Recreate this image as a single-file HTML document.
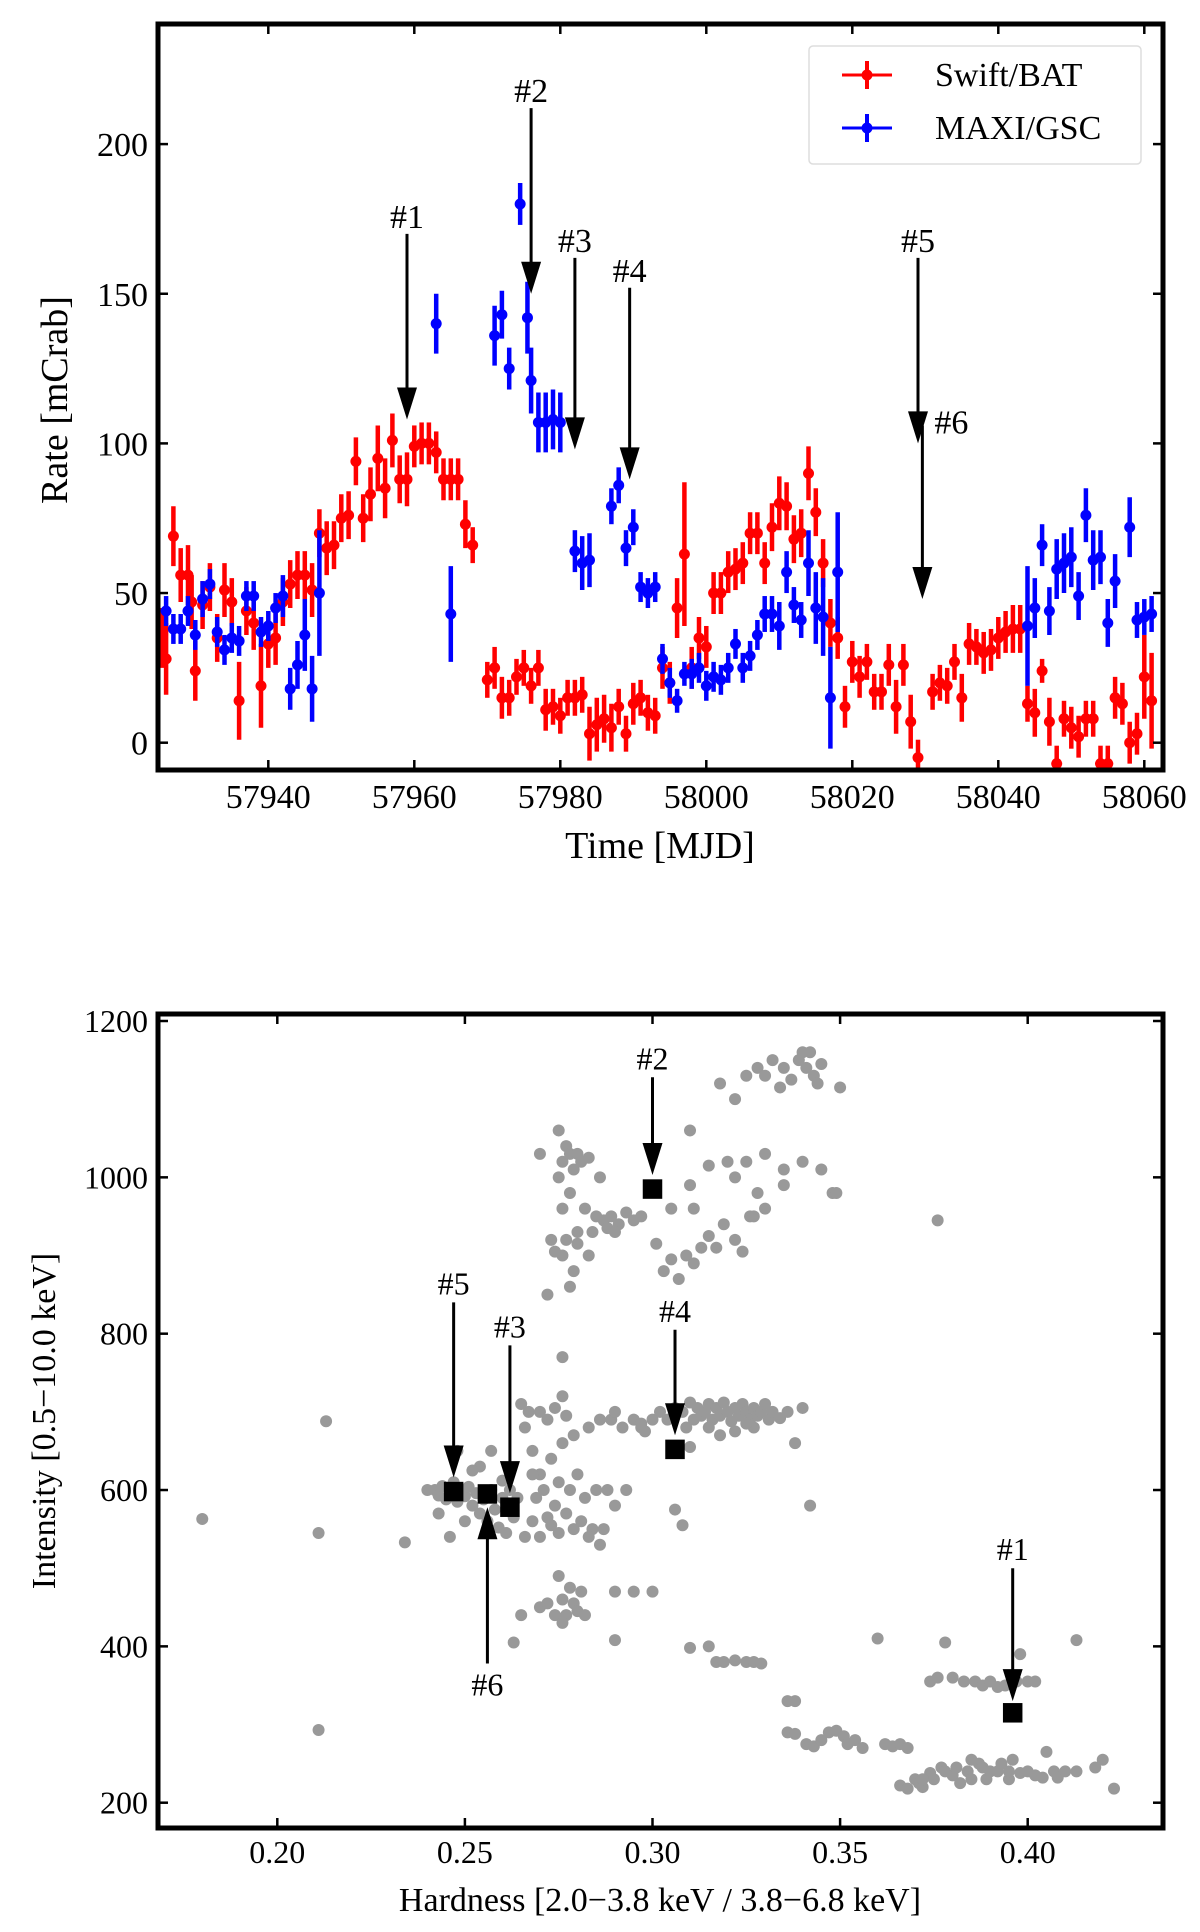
<!DOCTYPE html>
<html><head><meta charset="utf-8"><style>
html,body{margin:0;padding:0;background:#fff}
svg{display:block;font-family:"Liberation Serif",serif}
</style></head><body>
<svg id="fig" width="1200" height="1932" viewBox="0 0 1200 1932">
<g id="top"></g>
<g id="bot"></g>
</svg>
<script>
const batData=[[57925.5,35,10],[57926,28,12],[57927,69,10],[57928,56,9],[57929,56,10],[57929.5,47,9],[57930,24,10],[57931,46,8],[57932,52,8],[57933,35,8],[57934,51,9],[57935,47,8],[57936,14,13],[57937,44,8],[57938,40,9],[57939,19,14],[57940,33,8],[57941,35,9],[57942,47,8],[57943,53,8],[57944,56,8],[57945,56,8],[57946,51,9],[57947,70,8],[57948,65,9],[57949,66,8],[57950,75,8],[57951,76,8],[57952,94,8],[57953,75,8],[57954,83,9],[57955,95,11],[57956,85,10],[57957,101,9],[57958,88,8],[57959,88,9],[57960,99,7],[57961,100,7],[57962,100,7],[57963,97,7],[57964,88,7],[57965,88,7],[57966,88,7],[57967,73,8],[57968,66,6],[57970,21,6],[57971,25,7],[57972,15,7],[57973,15,6],[57974,22,6],[57975,25,6],[57976,19,6],[57977,25,6],[57978,11,7],[57979,12,6],[57980,9,6],[57981,15,6],[57982,15,6],[57983,16,6],[57984,3,9],[57985,6,9],[57986,8,8],[57987,5,8],[57988,12,6],[57989,3,6],[57990,13,7],[57991,15,6],[57992,10,6],[57993,9,6],[57994,25,7],[57995,20,7],[57996,45,10],[57997,63,24],[57998,25,7],[57999,35,7],[58000,32,7],[58001,50,7],[58002,50,7],[58003,57,7],[58004,58,7],[58005,60,7],[58006,70,7],[58007,70,7],[58008,60,7],[58009,72,8],[58010,80,9],[58011,79,8],[58012,68,8],[58013,70,8],[58014,90,9],[58015,77,8],[58016,60,8],[58017,40,8],[58018,35,7],[58019,12,7],[58020,27,7],[58021,22,7],[58022,27,6],[58023,17,6],[58024,17,6],[58025,26,7],[58026,12,9],[58027,26,7],[58028,7,9],[58029,-5,6],[58031,17,6],[58032,20,6],[58033,19,6],[58034,27,6],[58035,15,8],[58036,33,7],[58037,32,6],[58038,30,7],[58039,31,7],[58040,35,7],[58041,37,7],[58042,38,8],[58043,38,8],[58044,13,6],[58045,10,8],[58046,24,4],[58047,7,8],[58048,-7,6],[58049,8,6],[58050,5,7],[58051,2,7],[58052,8,6],[58053,8,6],[58054,-7,6],[58055,-7,6],[58056,15,7],[58057,13,7],[58058,0,7],[58059,3,7],[58060,22,14],[58061,14,16]];
const maxiData=[[57926,44,5],[57927,38,5],[57928,38,5],[57929,44,5],[57930,36,5],[57931,48,6],[57932,53,5],[57933,37,5],[57934,31,5],[57935,35,5],[57936,34,5],[57937,49,5],[57938,49,5],[57939,37,5],[57940,39,5],[57941,45,5],[57942,49,7],[57943,18,7],[57944,26,8],[57945,36,12],[57946,18,11],[57947,50,21],[57963,140,10],[57965,43,16],[57971,136,10],[57972,143,8],[57973,125,7],[57974.5,180,7],[57975.5,142,12],[57976,121,11],[57977,107,10],[57978,107,10],[57979,108,10],[57980,107,10],[57982,64,7],[57983,60,9],[57984,61,9],[57987,79,6],[57988,86,6],[57989,65,6],[57990,72,6],[57991,52,5],[57992,50,5],[57993,52,5],[57994,28,5],[57995,20,5],[57996,14,4],[57997,23,4],[57998,23,5],[57999,25,5],[58000,19,5],[58001,22,5],[58002,21,5],[58003,25,5],[58004,33,5],[58005,25,5],[58006,29,5],[58007,36,5],[58008,43,6],[58009,43,6],[58010,39,8],[58011,57,7],[58012,46,6],[58013,41,6],[58014,60,11],[58015,45,12],[58016,42,13],[58017,15,17],[58018,57,20],[58044,39,20],[58045,45,10],[58046,66,7],[58047,44,8],[58048,58,10],[58049,60,10],[58050,62,10],[58051,49,8],[58052,76,9],[58053,61,10],[58054,62,9],[58055,40,8],[58056,54,9],[58058,72,10],[58059,41,6],[58060,42,6],[58061,43,6]];
const topXTicks=[57940,57960,57980,58000,58020,58040,58060];
const topYTicks=[0,50,100,150,200];
const topArrows=[["#1",57959,170,108],["#2",57976,212,150],["#3",57982,162,98],["#4",57989.5,152,88],["#5",58029,162,100],["#6",58029.6,106,48]];
const hidPoints=[[0.242,600],[0.243,593],[0.244,605],[0.245,588],[0.246,598],[0.247,610],[0.248,585],[0.249,600],[0.250,592],[0.251,604],[0.252,580],[0.253,596],[0.254,570],[0.255,588],[0.256,560],[0.257,600],[0.258,575],[0.259,552],[0.260,590],[0.261,545],[0.262,600],[0.263,565],[0.264,590],[0.243,570],[0.246,540],[0.250,560],[0.254,630],[0.257,650],[0.260,612],[0.240,600],[0.248,650],[0.252,625],
[0.265,710],[0.266,680],[0.267,700],[0.268,650],[0.268,560],[0.269,590],[0.270,620],[0.270,540],[0.271,600],[0.272,690],[0.272,565],[0.273,640],[0.274,580],[0.275,545],[0.275,610],[0.276,660],[0.277,570],[0.277,695],[0.278,600],[0.279,550],[0.280,620],[0.281,560],[0.282,590],[0.283,680],[0.284,550],[0.285,600],[0.286,690],[0.287,550],[0.289,690],[0.290,580],[0.292,680],[0.266,540],[0.270,700],[0.274,705],[0.279,670],[0.283,540],[0.276,720],[0.268,620],[0.273,555],[0.286,530],[0.288,600],[0.290,700],[0.293,600],[0.295,690],[0.297,680],[0.298,675],[0.276,770],[0.265,440],[0.263,405],
[0.270,1030],[0.275,1060],[0.276,1020],[0.277,1040],[0.278,1030],[0.279,1010],[0.280,1030],[0.281,1020],[0.283,1025],[0.275,1000],[0.278,980],[0.282,960],[0.285,950],[0.287,945],[0.289,950],[0.291,940],[0.293,955],[0.295,945],[0.280,930],[0.284,930],[0.277,920],[0.273,920],[0.274,905],[0.276,900],[0.280,915],[0.283,900],[0.288,935],[0.290,930],[0.279,880],[0.272,850],[0.278,860],[0.286,1000],[0.276,960],[0.297,950],
[0.301,915],[0.303,880],[0.305,895],[0.307,870],[0.309,900],[0.311,890],[0.313,910],[0.315,925],[0.317,910],[0.319,940],[0.322,920],[0.324,905],[0.326,950],[0.328,980],[0.330,960],[0.310,990],[0.315,1015],[0.320,1020],[0.325,1020],[0.330,1030],[0.335,1010],[0.340,1020],[0.345,1010],[0.348,980],[0.305,960],[0.322,1000],[0.335,990],[0.318,1120],[0.322,1100],[0.325,1130],[0.328,1140],[0.330,1130],[0.332,1150],[0.335,1140],[0.337,1125],[0.339,1150],[0.340,1160],[0.341,1140],[0.342,1160],[0.343,1130],[0.344,1120],[0.345,1145],[0.350,1115],[0.334,1115],[0.310,1060],[0.327,950],[0.311,960],
[0.302,700],[0.304,690],[0.306,705],[0.308,700],[0.310,712],[0.311,690],[0.312,705],[0.313,695],[0.314,700],[0.315,710],[0.316,690],[0.317,705],[0.318,695],[0.319,712],[0.320,700],[0.321,688],[0.322,705],[0.323,695],[0.324,710],[0.325,700],[0.326,690],[0.327,705],[0.328,695],[0.329,700],[0.330,710],[0.331,690],[0.332,700],[0.334,692],[0.336,700],[0.340,705],[0.300,690],[0.297,685],[0.315,680],[0.322,675],[0.309,680],[0.318,670],[0.327,680],[0.310,655],[0.338,660],[0.306,575],[0.308,555],[0.342,580],[0.325,685],
[0.270,450],[0.272,455],[0.274,440],[0.275,490],[0.276,460],[0.277,440],[0.278,475],[0.279,455],[0.280,445],[0.281,470],[0.282,440],[0.276,430],[0.290,470],[0.295,470],[0.300,470],[0.290,408],[0.310,398],[0.315,400],[0.317,380],[0.319,380],[0.322,382],[0.325,380],[0.327,380],[0.329,378],[0.336,330],[0.338,330],
[0.336,290],[0.338,288],[0.341,275],[0.343,272],[0.345,280],[0.347,290],[0.349,292],[0.351,285],[0.352,275],[0.354,280],[0.356,270],[0.360,410],[0.362,275],[0.364,272],[0.366,222],[0.368,218],[0.370,230],[0.371,225],[0.372,220],[0.374,238],[0.375,230],[0.377,245],[0.378,240],[0.380,235],[0.381,245],[0.382,225],[0.384,240],[0.385,230],[0.387,250],[0.388,245],[0.389,230],[0.390,240],[0.392,240],[0.393,250],[0.395,230],[0.396,255],[0.398,238],[0.400,240],[0.402,235],[0.404,232],[0.405,265],[0.407,240],[0.408,232],[0.410,240],[0.413,240],[0.418,245],[0.420,255],[0.423,218],[0.372,230],[0.385,255],[0.395,240],[0.366,275],[0.368,270],[0.374,355],[0.376,360],[0.378,405],[0.380,360],[0.383,355],[0.386,355],[0.388,350],[0.390,355],[0.392,348],[0.394,350],[0.397,355],[0.400,355],[0.402,355],[0.398,390],[0.413,408],[0.376,945],[0.349,980],[0.234,533],[0.180,563],[0.211,545],[0.213,688],[0.211,293]];
const markLabels=["#1","#2","#3","#4","#5","#6"];
const markH=[0.396,0.300,0.262,0.306,0.247,0.256];
const markI=[315,985,578,652,598,595];
const botXTicks=[0.20,0.25,0.30,0.35,0.40];
const botYTicks=[200,400,600,800,1000,1200];
const botArrows=[["#1",0.396,500,330,0],["#2",0.300,1128,1003,0],["#3",0.262,785,596,0],["#4",0.306,805,670,0],["#5",0.247,840,616,0],["#6",0.256,378,578,1]];

const NS="http://www.w3.org/2000/svg";
function mk(parent,tag,attrs,text){const e=document.createElementNS(NS,tag);for(const k in attrs)e.setAttribute(k,attrs[k]);if(text!==undefined)e.textContent=text;parent.appendChild(e);return e;}
const tx=m=>268.3+(m-57940)*7.3, ty=v=>742.7-v*2.993;
const bx=h=>277.3+(h-0.2)*3752, by=I=>1802.7-(I-200)*0.7817;
const T=document.getElementById('top'), B=document.getElementById('bot');
const L=158,R=1163,T0=24,T1=770,B0=1014,B1=1828;

function arrow(g,x,y1,y2,name){
  const a=mk(g,'g',{});
  
  
  const dir=y2>y1?1:-1;
  mk(a,'line',{x1:x,y1:y1,x2:x,y2:y2-dir*30,stroke:'#000','stroke-width':3});
  mk(a,'polygon',{points:`${x-10},${y2-dir*32} ${x+10},${y2-dir*32} ${x},${y2}`,fill:'#000'});
}
const tClip=mk(T,'clipPath',{id:'tc'});mk(tClip,'rect',{x:L,y:T0,width:R-L,height:T1-T0});
const tData=mk(T,'g',{'clip-path':'url(#tc)'});
function series(arr,color,name){
  const g=mk(tData,'g',{});
  
  
  arr.forEach(d=>{
    const p=mk(g,'g',{});
    
    
    mk(p,'line',{x1:tx(d[0]),x2:tx(d[0]),y1:ty(d[1]-d[2]),y2:ty(d[1]+d[2]),stroke:color,'stroke-width':4.5});
    mk(p,'circle',{cx:tx(d[0]),cy:ty(d[1]),r:5.5,fill:color});
  });
}
series(batData,'#ff0000','swift-bat-series');
series(maxiData,'#0000ff','maxi-gsc-series');
topArrows.forEach(a=>{
  arrow(T,tx(a[1]),ty(a[2]),ty(a[3]),'arrow-'+a[0].slice(1));
  const six=a[0]=="#6";
  const t=mk(T,'text',{x:six?tx(a[1])+12:tx(a[1]),y:six?ty(a[2])+8:ty(a[2])-6,'font-size':34,'text-anchor':six?'start':'middle'},a[0]);
  
  
});
topXTicks.forEach(v=>{const x=tx(v);
  mk(T,'line',{x1:x,x2:x,y1:T1,y2:T1-10,stroke:'#000','stroke-width':2.5});
  mk(T,'line',{x1:x,x2:x,y1:T0,y2:T0+10,stroke:'#000','stroke-width':2.5});
  const t=mk(T,'text',{x:x,y:808,'font-size':34,'text-anchor':'middle'},String(v));
  });
topYTicks.forEach(v=>{const y=ty(v);
  mk(T,'line',{x1:L,x2:L+10,y1:y,y2:y,stroke:'#000','stroke-width':2.5});
  mk(T,'line',{x1:R,x2:R-10,y1:y,y2:y,stroke:'#000','stroke-width':2.5});
  const t=mk(T,'text',{x:148,y:y+12,'font-size':34,'text-anchor':'end'},String(v));
  });
mk(T,'rect',{x:L,y:T0,width:R-L,height:T1-T0,fill:'none',stroke:'#000','stroke-width':5});
let t1=mk(T,'text',{x:660,y:858,'font-size':38,'text-anchor':'middle'},'Time [MJD]');

t1=mk(T,'text',{x:0,y:0,'font-size':38,'text-anchor':'middle',transform:'translate(67,400) rotate(-90)'},'Rate [mCrab]');

const lg=mk(T,'g',{});

mk(lg,'rect',{x:809,y:46,width:332,height:118,rx:4,fill:'#fff',stroke:'#ddd','stroke-width':1.5});
[['Swift/BAT','#ff0000',75],['MAXI/GSC','#0000ff',128]].forEach(e=>{
  const g=mk(lg,'g',{});
  
  mk(g,'line',{x1:842,x2:892,y1:e[2],y2:e[2],stroke:e[1],'stroke-width':3});
  mk(g,'line',{x1:867,x2:867,y1:e[2]-14,y2:e[2]+14,stroke:e[1],'stroke-width':4});
  mk(g,'circle',{cx:867,cy:e[2],r:5.5,fill:e[1]});
  mk(g,'text',{x:935,y:e[2]+11,'font-size':34},e[0]);
});
const sc=mk(B,'g',{});

hidPoints.forEach(p=>{const c=mk(sc,'circle',{cx:bx(p[0]),cy:by(p[1]),r:6,fill:'#999'});
  });
markLabels.forEach((l,i)=>{const s=19.5;const r=mk(B,'rect',{x:bx(markH[i])-s/2,y:by(markI[i])-s/2,width:s,height:s,fill:'#000'});
  });
botArrows.forEach(a=>{
  arrow(B,bx(a[1]),by(a[2]),by(a[3]),'hid-arrow-'+a[0].slice(1));
  const t=mk(B,'text',{x:bx(a[1]),y:a[4]?by(a[2])+32:by(a[2])-8,'font-size':32,'text-anchor':'middle'},a[0]);
  
});
botXTicks.forEach(v=>{const x=bx(v);
  mk(B,'line',{x1:x,x2:x,y1:B1,y2:B1-10,stroke:'#000','stroke-width':2.5});
  mk(B,'line',{x1:x,x2:x,y1:B0,y2:B0+10,stroke:'#000','stroke-width':2.5});
  const t=mk(B,'text',{x:x,y:1863,'font-size':32,'text-anchor':'middle'},v.toFixed(2));
  });
botYTicks.forEach(v=>{const y=by(v);
  mk(B,'line',{x1:L,x2:L+10,y1:y,y2:y,stroke:'#000','stroke-width':2.5});
  mk(B,'line',{x1:R,x2:R-10,y1:y,y2:y,stroke:'#000','stroke-width':2.5});
  const t=mk(B,'text',{x:148,y:y+11,'font-size':32,'text-anchor':'end'},String(v));
  });
mk(B,'rect',{x:L,y:B0,width:R-L,height:B1-B0,fill:'none',stroke:'#000','stroke-width':5});
t1=mk(B,'text',{x:660,y:1911,'font-size':34,'text-anchor':'middle'},'Hardness [2.0\u22123.8 keV / 3.8\u22126.8 keV]');

t1=mk(B,'text',{x:0,y:0,'font-size':34,'text-anchor':'middle',transform:'translate(55,1421) rotate(-90)'},'Intensity [0.5\u221210.0 keV]');

</script>
</body></html>
